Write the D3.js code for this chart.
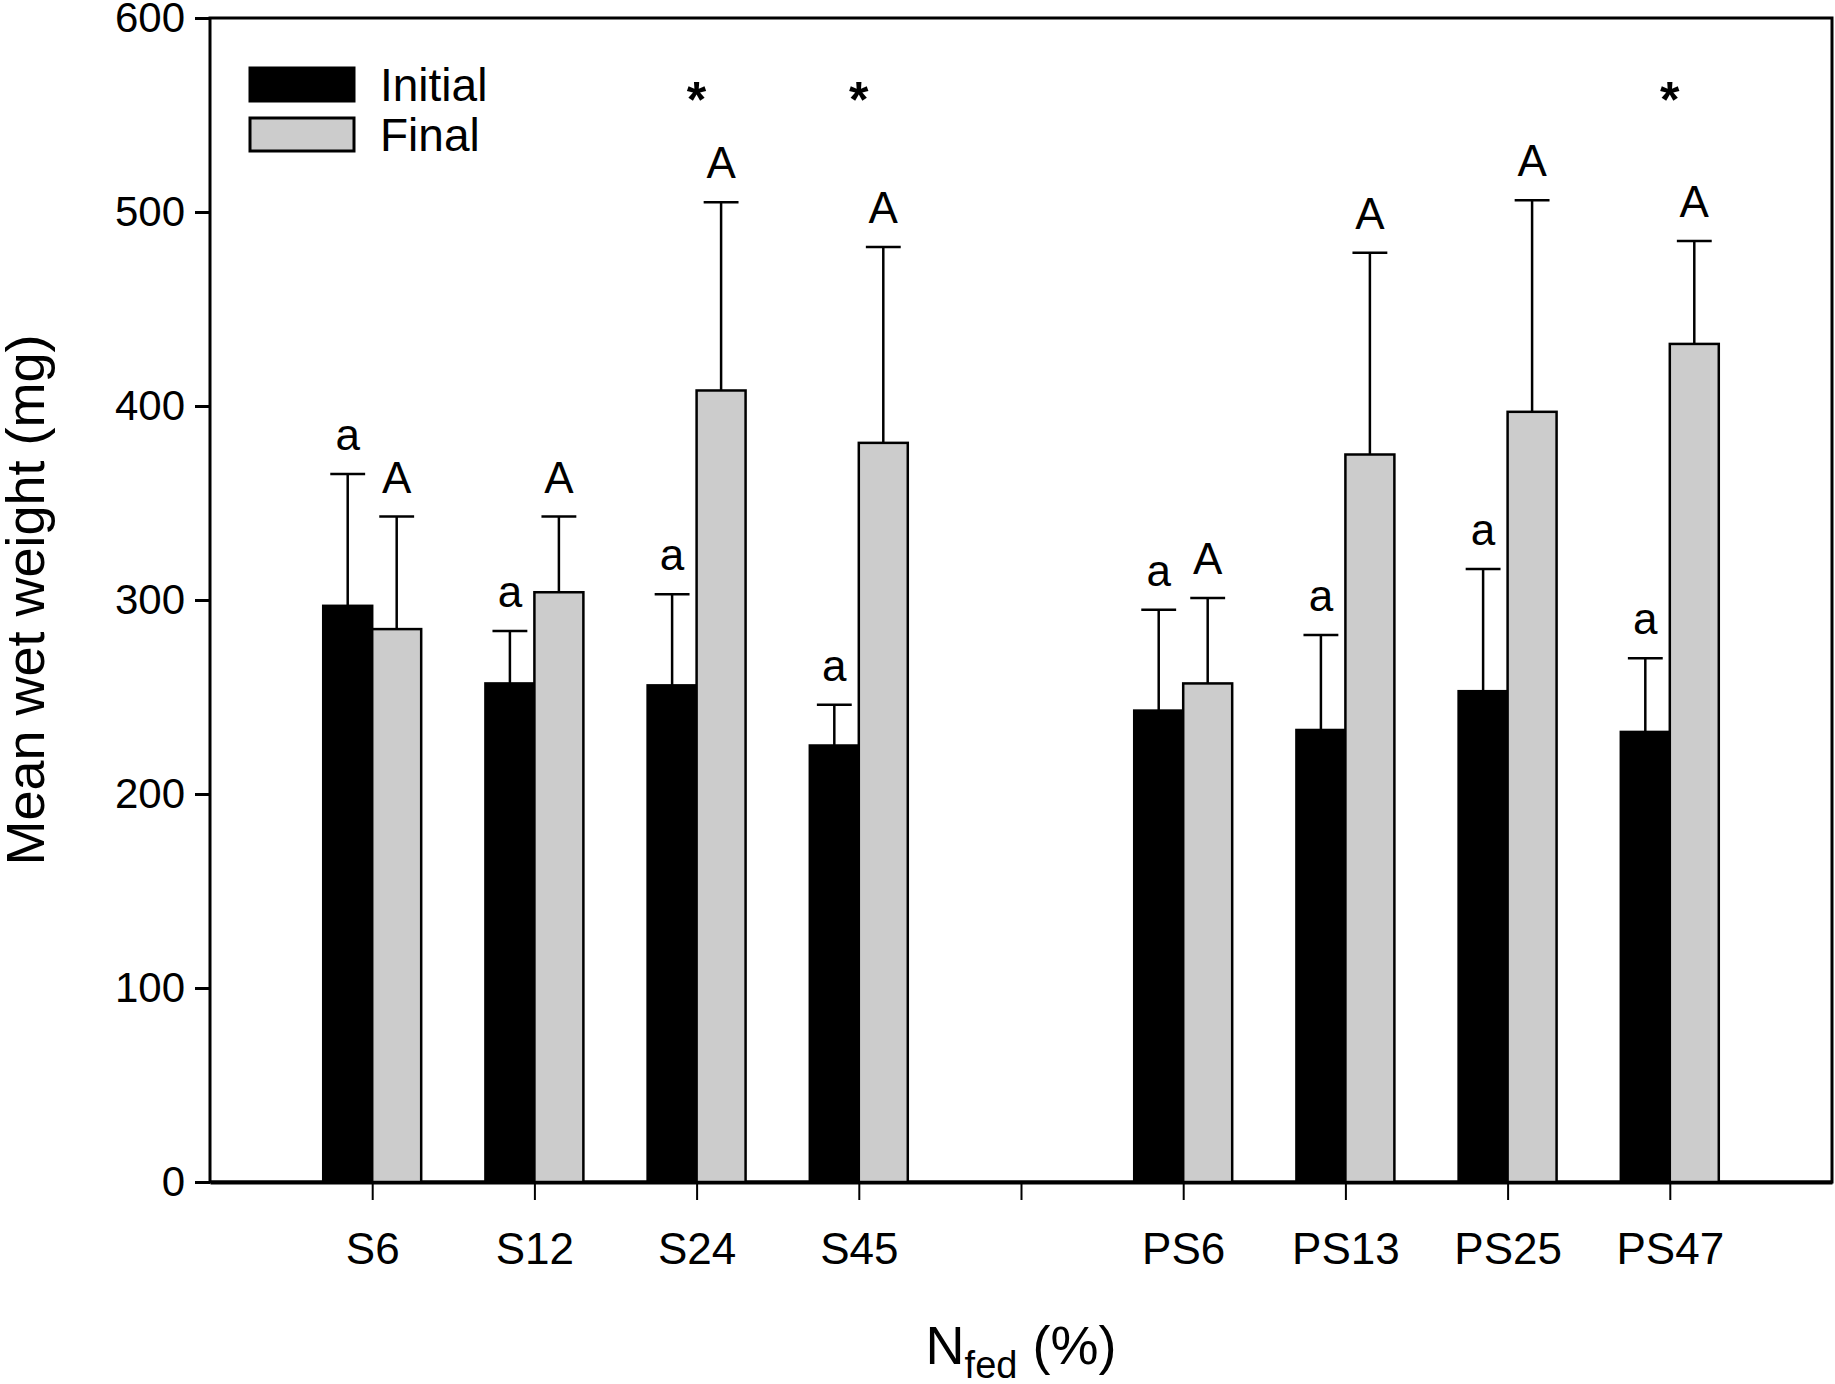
<!DOCTYPE html>
<html>
<head>
<meta charset="utf-8">
<script src="https://cdn.jsdelivr.net/npm/d3@7"></script>
<style>
  html, body { margin: 0; padding: 0; background: #fff; overflow: hidden; }
  svg { display: block; }
  text { font-family: "Liberation Sans", Arial, sans-serif; }
</style>
</head>
<body>
<div id="chart"></div>
<script>
// size of the picture
const width = 1835; const height = 1384;
const margin = {top: 18, right: 3, bottom: 202, left: 210};
const innerWidth = width - margin.left - margin.right;
const innerHeight = height - margin.top - margin.bottom;

// groups along x (the blank one is the gap between S and PS)
const groups = ["S6", "S12", "S24", "S45", " ", "PS6", "PS13", "PS25", "PS47"];
// mean wet weight (mg)
const initialMean = [297, 257, 256, 225, null, 243, 233, 253, 232];
const initialErr  = [68, 27, 47, 21, null, 52, 49, 63, 38];
const finalMean   = [285, 304, 408, 381, null, 257, 375, 397, 432];
const finalErr    = [58, 39, 97, 101, null, 44, 104, 109, 53];
// letters and stars over the bars
const initialLetter = ["a", "a", "a", "a", "", "a", "a", "a", "a"];
const finalLetter   = ["A", "A", "A", "A", "", "A", "A", "A", "A"];
const stars         = ["", "", "*", "*", "", "", "", "", "*"];
const yTicks = [0, 100, 200, 300, 400, 500, 600];
const seriesNames = ["Initial", "Final"];
const seriesFill = ["#000000", "#cccccc"];

const svg = d3.select("#chart")
    .append("svg")
        .attr("width", width)
        .attr("height", height);
const plotG = svg.append("g")
    .attr("transform", `translate(${margin.left}, ${margin.top})`);

const x = d3.scalePoint()
    .domain(groups)
    .range([0, innerWidth])
    .padding(1);
const y = d3.scaleLinear()
    .domain([0, 600])
    .range([innerHeight, 0]);

const bw = x.step() * 0.302;
const capW = x.step() * 0.215;

// frame
plotG.append("rect")
    .attr("width", innerWidth)
    .attr("height", innerHeight)
    .attr("fill", "none")
    .attr("stroke", "#000")
    .attr("stroke-width", 3);

// y axis
const yAxis = plotG.append("g")
    .call(d3.axisLeft(y).tickValues(yTicks).tickSize(15).tickPadding(10));
yAxis.select(".domain").remove();
yAxis.selectAll("line").attr("stroke-width", 3);
yAxis.selectAll("text")
    .attr("font-size", 42)
    .attr("font-family", "Liberation Sans, Arial, sans-serif");

// x axis
const xAxis = plotG.append("g")
    .attr("transform", `translate(0, ${innerHeight})`)
    .call(d3.axisBottom(x).tickSize(18).tickSizeOuter(0).tickPadding(33));
xAxis.select(".domain").attr("stroke-width", 4);
xAxis.selectAll("line").attr("stroke-width", 2);
xAxis.selectAll("text")
    .attr("font-size", 44)
    .attr("font-family", "Liberation Sans, Arial, sans-serif");
// the gap tick has no label: drop its empty text node
xAxis.selectAll("text").filter(d => d.trim() === "").remove();

// bar data: one item per drawn bar
const bars = [];
groups.forEach(function(g, i){
    if(initialMean[i] == null) return;
    bars.push({g: g, s: 0, mean: initialMean[i], err: initialErr[i], label: initialLetter[i]});
    bars.push({g: g, s: 1, mean: finalMean[i], err: finalErr[i], label: finalLetter[i]});
});
const barX = d => x(d.g) - bw + d.s * bw;

// error bars (upper only), drawn under the bars
const eb = plotG.append("g").selectAll("g")
    .data(bars)
    .enter().append("g")
        .attr("stroke", "#000")
        .attr("stroke-width", 2.5);
eb.append("line")
    .attr("x1", d => barX(d) + bw / 2)
    .attr("x2", d => barX(d) + bw / 2)
    .attr("y1", d => y(d.mean))
    .attr("y2", d => y(d.mean + d.err));
eb.append("line")
    .attr("x1", d => barX(d) + bw / 2 - capW / 2)
    .attr("x2", d => barX(d) + bw / 2 + capW / 2)
    .attr("y1", d => y(d.mean + d.err))
    .attr("y2", d => y(d.mean + d.err));

plotG.append("g").selectAll("rect")
    .data(bars)
    .enter().append("rect")
        .attr("x", barX)
        .attr("y", d => y(d.mean))
        .attr("width", bw)
        .attr("height", d => innerHeight - y(d.mean))
        .attr("fill", d => seriesFill[d.s])
        .attr("stroke", "#000")
        .attr("stroke-width", 2.5);

// letters over the caps
plotG.append("g").selectAll("text")
    .data(bars)
    .enter().append("text")
        .attr("x", d => barX(d) + bw / 2)
        .attr("y", d => y(d.mean + d.err) - 24)
        .attr("text-anchor", "middle")
        .attr("font-size", 44)
        .text(d => d.label);

// stars for significant differences
plotG.append("g").selectAll("text")
    .data(groups.filter((g, i) => stars[i] !== ""))
    .enter().append("text")
        .attr("x", d => x(d))
        .attr("y", 99)
        .attr("text-anchor", "middle")
        .attr("font-size", 50)
        .attr("font-weight", "bold")
        .text("*");

// legend
const legend = plotG.append("g")
    .attr("transform", "translate(40, 50)");
const li = legend.selectAll("g")
    .data(seriesNames)
    .enter().append("g")
        .attr("transform", (d, i) => `translate(0, ${i * 50})`);
li.append("rect")
    .attr("width", 104)
    .attr("height", 33)
    .attr("fill", (d, i) => seriesFill[i])
    .attr("stroke", "#000")
    .attr("stroke-width", 3);
li.append("text")
    .attr("x", 130)
    .attr("y", 33)
    .attr("font-size", 46)
    .text(d => d);

// y axis title
svg.append("text")
    .attr("transform", `translate(44, ${margin.top + innerHeight / 2}) rotate(-90)`)
    .attr("text-anchor", "middle")
    .attr("font-size", 54)
    .text("Mean wet weight (mg)");

// x axis title with subscript
const xt = svg.append("text")
    .attr("x", margin.left + innerWidth / 2)
    .attr("y", 1364)
    .attr("text-anchor", "middle")
    .attr("font-size", 54);
xt.append("tspan").text("N");
xt.append("tspan").attr("font-size", 38).attr("dy", 14).text("fed");
xt.append("tspan").attr("dy", -14).text(" (%)");
</script>
</body>
</html>
